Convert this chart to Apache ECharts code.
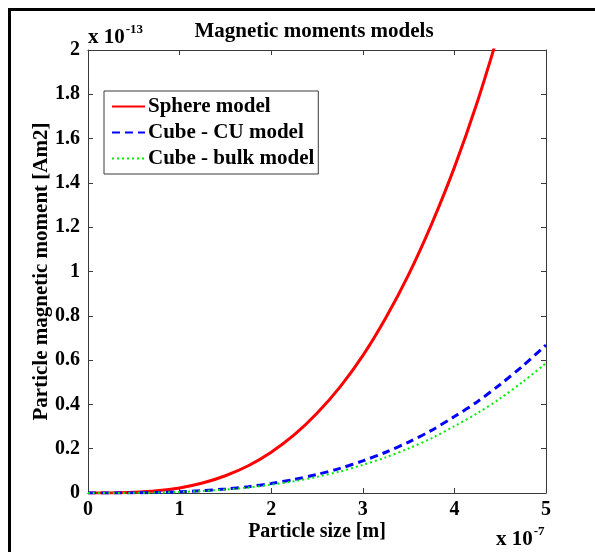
<!DOCTYPE html>
<html>
<head>
<meta charset="utf-8">
<title>Magnetic moments models</title>
<script src="https://cdn.jsdelivr.net/npm/echarts@6/dist/echarts.min.js"></script>
<style>
  html, body { margin: 0; padding: 0; background: #fff; }
</style>
</head>
<body>
<div id="main" style="width: 595px; height: 552px;"></div>
<script type="text/javascript">
// particle size in units of 1e-7 m
var sizes = [0, 0.25, 0.5, 0.75, 1, 1.25, 1.5, 1.75, 2, 2.25, 2.5, 2.75, 3, 3.25, 3.5, 3.75, 4, 4.25, 4.5, 4.75, 5];
// moments in units of 1e-13 Am2
var sphere = [0, 0.0004, 0.003, 0.0097, 0.023, 0.045, 0.078, 0.123, 0.184, 0.262, 0.36, 0.478, 0.62, 0.79, 0.986, 1.213, 1.47, 1.765, 2.1, null, null];
var cubeCU = [0, 0.0001, 0.0007, 0.0023, 0.0054, 0.0105, 0.018, 0.0287, 0.043, 0.061, 0.084, 0.111, 0.145, 0.184, 0.23, 0.283, 0.345, 0.412, 0.49, 0.575, 0.668];
var cubeBulk = [0, 0.0001, 0.0006, 0.002, 0.0047, 0.0092, 0.0158, 0.025, 0.0375, 0.053, 0.073, 0.097, 0.127, 0.161, 0.201, 0.247, 0.302, 0.36, 0.427, 0.503, 0.586];
var seriesNames = ['Sphere model', 'Cube - CU model', 'Cube - bulk model'];
var yTicks = [0, 0.2, 0.4, 0.6, 0.8, 1, 1.2, 1.4, 1.6, 1.8, 2];

var font = 'Liberation Serif, Times New Roman, serif';

function pairs(ys) {
  var out = [];
  for (var i = 0; i < sizes.length; i++) {
    if (ys[i] !== null) out.push([sizes[i], ys[i]]);
  }
  return out;
}

var myChart = echarts.init(document.getElementById('main'));

var axisLine = { show: true, onZero: false, lineStyle: { color: '#3a3a3a', width: 1 } };
var axisTick = { show: true, inside: true, length: 5, lineStyle: { color: '#3a3a3a' } };
var labelStyle = { color: '#000', fontFamily: font, fontWeight: 'bold', fontSize: 20 };
var expRich = {
  b: { fontFamily: font, fontWeight: 'bold', fontSize: 21, fill: '#000', verticalAlign: 'bottom' },
  s: { fontFamily: font, fontWeight: 'bold', fontSize: 13, fill: '#000', verticalAlign: 'top', padding: [0, 0, 12, 1] }
};

myChart.setOption({
  animation: false,
  title: {
    text: 'Magnetic moments models',
    left: 309,
    textAlign: 'center',
    top: 16,
    textStyle: { color: '#000', fontFamily: font, fontWeight: 'bold', fontSize: 21 }
  },
  legend: {
    data: seriesNames,
    orient: 'vertical',
    left: 104,
    top: 91,
    padding: [5, 4, 5, 7],
    itemGap: 5,
    itemWidth: 33,
    itemHeight: 21,
    itemStyle: { opacity: 0 },
    backgroundColor: '#fff',
    borderColor: '#3a3a3a',
    borderWidth: 1,
    borderRadius: 0,
    textStyle: { color: '#000', fontFamily: font, fontWeight: 'bold', fontSize: 21, padding: [0, 0, 0, -2] }
  },
  grid: { left: 88, right: 49, top: 50, bottom: 59, containLabel: false },
  xAxis: [{
    type: 'value',
    min: 0, max: 5, interval: 1,
    name: 'Particle size [m]',
    nameLocation: 'middle',
    nameGap: 29,
    nameMoveOverlap: false,
    nameTextStyle: { color: '#000', fontFamily: font, fontWeight: 'bold', fontSize: 20 },
    axisLine: axisLine,
    axisTick: axisTick,
    axisLabel: Object.assign({ margin: 7 }, labelStyle),
    splitLine: { show: false }
  }, {
    type: 'value', position: 'top',
    min: 0, max: 5, interval: 1,
    axisLine: axisLine, axisTick: axisTick,
    axisLabel: { show: false }, splitLine: { show: false }
  }],
  yAxis: [{
    type: 'value',
    min: 0, max: 2, interval: 0.2,
    name: 'Particle magnetic moment [Am2]',
    nameLocation: 'middle',
    nameGap: 36,
    nameMoveOverlap: false,
    nameTextStyle: { color: '#000', fontFamily: font, fontWeight: 'bold', fontSize: 21 },
    axisLine: axisLine,
    axisTick: axisTick,
    axisLabel: Object.assign({ margin: 8, formatter: function (v) {
      for (var i = 0; i < yTicks.length; i++) {
        if (Math.abs(yTicks[i] - v) < 1e-9) return String(yTicks[i]);
      }
      return '';
    } }, labelStyle),
    splitLine: { show: false }
  }, {
    type: 'value', position: 'right',
    min: 0, max: 2, interval: 0.2,
    axisLine: axisLine, axisTick: axisTick,
    axisLabel: { show: false }, splitLine: { show: false }
  }],
  series: [{
    name: seriesNames[0],
    type: 'line',
    data: pairs(sphere),
    smooth: 0.3,
    symbol: 'none',
    clip: true,
    color: '#ff0000',
    lineStyle: { color: '#ff0000', width: 3, type: 'solid' }
  }, {
    name: seriesNames[1],
    type: 'line',
    data: pairs(cubeCU),
    smooth: 0.3,
    symbol: 'none',
    color: '#0000ff',
    lineStyle: { color: '#0000ff', width: 3, type: [8, 5] }
  }, {
    name: seriesNames[2],
    type: 'line',
    data: pairs(cubeBulk),
    smooth: 0.3,
    symbol: 'none',
    color: '#00ff00',
    lineStyle: { color: '#00ee00', width: 2, type: [2, 3] }
  }],
  graphic: [
    // outer frame (top and left edges)
    { type: 'rect', shape: { x: 8, y: 8, width: 595, height: 3 }, style: { fill: '#000' } },
    { type: 'rect', shape: { x: 8, y: 8, width: 3, height: 552 }, style: { fill: '#000' } },
    { type: 'text', left: 88, top: 23, style: { text: '{b|x 10}{s|-13}', rich: expRich } },
    { type: 'text', left: 496, top: 525, style: { text: '{b|x 10}{s|-7}', rich: expRich } }
  ]
});
</script>
</body>
</html>
